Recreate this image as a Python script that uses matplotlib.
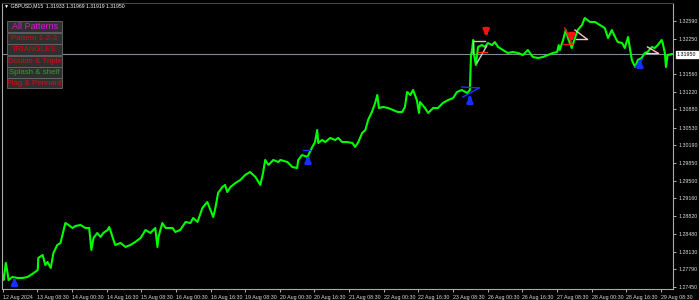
import matplotlib
matplotlib.use("Agg")
import matplotlib.pyplot as plt
from matplotlib.patches import Rectangle

plt.rcParams["font.family"] = ["Liberation Sans", "DejaVu Sans"]

# GBPUSD M15 close prices (bar index, price)
bars = [0, 2, 6, 9, 11, 18, 28, 37, 46, 55, 65, 66, 74, 79, 83, 89, 94, 101, 107, 112,
        116, 122, 129, 135, 144, 153, 160, 164, 168, 175, 181, 186, 194, 197, 203, 208, 218, 227, 236, 245,
        255, 264, 273, 282, 286, 288, 295, 301, 306, 314, 319, 328, 338, 347, 352, 360, 369, 378, 384, 389,
        393, 398, 406, 411, 415, 421, 430, 439, 448, 457, 467, 476, 481, 485, 491, 500, 509, 513, 526, 535,
        544, 546, 553, 563, 572, 577, 581, 583, 590, 596, 605, 614, 620, 627, 636, 646, 651, 657, 664, 670,
        675, 682, 688, 692, 695, 703, 712, 721, 730, 738, 743, 747, 753, 758, 765, 769, 771, 780, 786, 795,
        804, 813, 823, 832, 839, 848, 858, 863, 865, 867, 869, 870, 874, 878, 885, 891, 896, 904, 909, 915,
        924, 933, 942, 952, 961, 970, 979, 989, 998, 1007, 1016, 1024, 1027, 1029, 1035, 1040, 1044, 1051, 1057, 1062,
        1070, 1075, 1085, 1094, 1103, 1112, 1118, 1125, 1131, 1136, 1144, 1149, 1155, 1159, 1162, 1168, 1173, 1180, 1186, 1191,
        1199, 1204, 1210, 1217, 1219, 1223, 1225, 1228, 1236]
closes = [1.27682, 1.27585, 1.27914, 1.27740, 1.27585, 1.27643, 1.27624, 1.27624, 1.27643, 1.27701,
          1.27778, 1.28010, 1.28068, 1.27875, 1.27933, 1.27817, 1.28107, 1.28261, 1.28300, 1.28513,
          1.28686, 1.28648, 1.28590, 1.28629, 1.28648, 1.28590, 1.28590, 1.28165, 1.28397, 1.28493,
          1.28416, 1.28493, 1.28551, 1.28609, 1.28416, 1.28261, 1.28300, 1.28223, 1.28261, 1.28319,
          1.28397, 1.28551, 1.28493, 1.28590, 1.28223, 1.28416, 1.28686, 1.28590, 1.28590, 1.28590,
          1.28513, 1.28551, 1.28706, 1.28686, 1.28783, 1.28706, 1.28976, 1.29092, 1.28938, 1.28802,
          1.28976, 1.29266, 1.29382, 1.29421, 1.29285, 1.29382, 1.29459, 1.29517, 1.29614, 1.29672,
          1.29575, 1.29421, 1.29652, 1.29904, 1.29807, 1.29904, 1.29865, 1.29904, 1.29865, 1.29768,
          1.29749, 1.29904, 1.30000, 1.29962, 1.30155, 1.30251, 1.30483, 1.30232, 1.30290, 1.30251,
          1.30329, 1.30290, 1.30329, 1.30251, 1.30251, 1.30232, 1.30155, 1.30251, 1.30425, 1.30483,
          1.30676, 1.30831, 1.31005, 1.31159, 1.30908, 1.30928, 1.30908, 1.30870, 1.30831, 1.30831,
          1.30928, 1.31217, 1.31159, 1.31256, 1.31063, 1.30812, 1.31024, 1.30908, 1.30812, 1.30908,
          1.30908, 1.31005, 1.31063, 1.31101, 1.31217, 1.31256, 1.31198, 1.31256, 1.31932, 1.32029,
          1.32222, 1.31971, 1.31739, 1.32087, 1.32125, 1.32087, 1.32164, 1.32125, 1.32183, 1.32087,
          1.32029, 1.31971, 1.31990, 1.31971, 1.31932, 1.32029, 1.31894, 1.31874, 1.31894, 1.31932,
          1.31971, 1.31990, 1.32125, 1.32029, 1.32222, 1.32415, 1.32261, 1.32067, 1.32261, 1.32415,
          1.32512, 1.32647, 1.32570, 1.32570, 1.32512, 1.32454, 1.32261, 1.32415, 1.32280, 1.32183,
          1.32164, 1.32067, 1.32280, 1.32029, 1.31836, 1.31700, 1.31836, 1.31874, 1.31971, 1.31990,
          1.32087, 1.32067, 1.32125, 1.32222, 1.32164, 1.31971, 1.31700, 1.31932, 1.31950]

current_price = 1.31950
title = "\u25BC GBPUSD,M15  1.31933 1.31969 1.31919 1.31950"

time_labels = ["12 Aug 2024", "13 Aug 08:30", "14 Aug 00:30", "14 Aug 16:30", "15 Aug 08:30",
               "16 Aug 00:30", "16 Aug 16:30", "19 Aug 08:30", "20 Aug 00:30", "20 Aug 16:30",
               "21 Aug 08:30", "22 Aug 00:30", "22 Aug 16:30", "23 Aug 08:30", "26 Aug 00:30",
               "26 Aug 16:30", "27 Aug 08:30", "28 Aug 00:30", "28 Aug 16:30", "29 Aug 08:30"]
time_ticks = [i * 64 for i in range(len(time_labels))]
price_ticks = [1.27450, 1.27790, 1.28130, 1.28480, 1.28820, 1.29160, 1.29500, 1.29850,
               1.30190, 1.30530, 1.30880, 1.31220, 1.31560, 1.32250, 1.32590]

# pattern arrows: (bar, tail price, tip price)
buy_arrows = [(22, 1.27508, 1.27682), (564, 1.29865, 1.30039),
              (863, 1.31044, 1.31198), (1177, 1.31739, 1.31894)]
sell_arrows = [(893, 1.32415, 1.32241), (1051, 1.32319, 1.32145)]

# pattern lines: (bar0, price0, bar1, price1, colour)
pattern_lines = [
    (555, 1.30097, 568, 1.30097, "#2233ff"),
    (848, 1.31314, 880, 1.31295, "#2233ff"),
    (850, 1.31121, 880, 1.31295, "#2233ff"),
    (1168, 1.31700, 1182, 1.31855, "#2233ff"),
    (869, 1.32203, 891, 1.32203, "#c8c8c8"),
    (869, 1.32203, 869, 1.31971, "#c8c8c8"),
    (876, 1.31778, 894, 1.32106, "#c8c8c8"),
    (878, 1.31990, 894, 1.31990, "#ff3311"),
    (1038, 1.32454, 1051, 1.32164, "#ff1111"),
    (1035, 1.32145, 1051, 1.32145, "#ff1111"),
    (1057, 1.32415, 1079, 1.32241, "#ffc0cb"),
    (1059, 1.32241, 1079, 1.32241, "#ffc0cb"),
    (1191, 1.32087, 1210, 1.31971, "#ffc0cb"),
    (1188, 1.31971, 1210, 1.31971, "#ffc0cb"),
]

buttons = ["All Patterns", "Pattern 1-2-3", "TRIANGLES", "Double & Triple", "Splash & shelf", "Flag & Pennant"]
button_colors = ["#d020d0", "#d01010", "#d01010", "#d01010", "#30a030", "#d01010"]

W, H = 699, 300
fig = plt.figure(figsize=(W / 100, H / 100), dpi=100, facecolor="black")
ax = fig.add_axes([2 / W, 11 / H, 671 / W, 286 / H], facecolor="black")

ax.axhline(current_price, color="#7d8a99", lw=0.8, zorder=1)
ax.plot(bars, closes, color="#00ff00", lw=1.5, zorder=2)

for b0, p0, b1, p1, c in pattern_lines:
    ax.plot([b0, b1], [p0, p1], color=c, lw=1.0, zorder=3)
for b, tail, tip in buy_arrows:
    ax.annotate("", xy=(b, tip), xytext=(b, tail),
                arrowprops=dict(arrowstyle="-|>", color="#1530ff", lw=2.2, mutation_scale=8), zorder=4)
for b, tail, tip in sell_arrows:
    ax.annotate("", xy=(b, tip), xytext=(b, tail),
                arrowprops=dict(arrowstyle="-|>", color="#ff1010", lw=2.2, mutation_scale=8), zorder=4)

ax.set_xlim(-1, 1238)
ax.set_ylim(1.27411, 1.32937)

ax.spines["top"].set_color("#444444")
for s in ["left", "bottom", "right"]:
    ax.spines[s].set_color("#aaaaaa")
    ax.spines[s].set_linewidth(0.8)

ax.yaxis.tick_right()
ax.set_yticks(price_ticks)
ax.set_yticklabels([f"{p:.5f}" for p in price_ticks])
ax.set_xticks(time_ticks)
ax.set_xticklabels(time_labels)
ax.tick_params(axis="both", colors="#cccccc", labelsize=3.8, length=2.5, width=0.6,
               labelcolor="#dddddd", pad=1.5)
for lbl in ax.get_xticklabels():
    lbl.set_horizontalalignment("left")

# current price box
ax.text(1.006, current_price, "1.31950", transform=ax.get_yaxis_transform(),
        fontsize=3.8, color="black", va="center", ha="left",
        bbox=dict(boxstyle="square,pad=0.2", fc="white", ec="white"))

fig.text(4 / W, 1 - 6 / H, title, fontsize=3.7, color="white", va="center", ha="left")

# pattern buttons
btn_top = [21, 33, 44, 56, 67, 78]
for name, c, top in zip(buttons, button_colors, btn_top):
    h = 10.5
    fig.patches.append(Rectangle((7 / W, 1 - (top + h) / H), 55 / W, h / H,
                                 transform=fig.transFigure, fc="#2f2f2f", ec="#6a6a6a", lw=0.6))
    fig.text(34.5 / W, 1 - (top + h / 2) / H, name, fontsize=6.5 if name == "All Patterns" else 5.7,
             color=c, ha="center", va="center")

fig.savefig("out.png", dpi=100, facecolor="black")
